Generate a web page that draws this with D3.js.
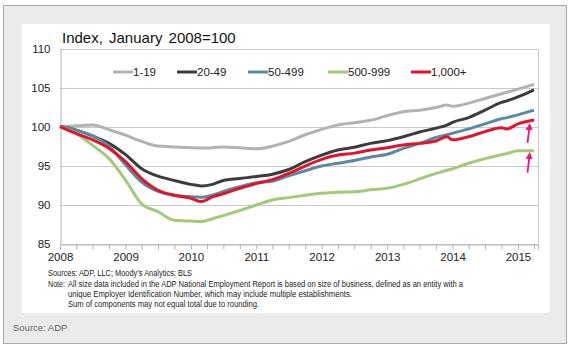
<!DOCTYPE html>
<html>
<head>
<meta charset="utf-8">
<script src="https://cdn.jsdelivr.net/npm/d3@7"></script>
<style>
body { margin: 0; background: #fff; }
svg { display: block; font-family: Arial, "Liberation Sans", sans-serif; }
</style>
</head>
<body>
<svg width="578" height="351"></svg>
<script>
// months of the readings (year-month)
var months = ["2008-01","2008-04","2008-07","2008-10","2009-01","2009-04","2009-07","2009-10",
    "2010-01","2010-03","2010-05","2010-07","2010-10","2011-01","2011-04","2011-07","2011-10",
    "2012-01","2012-04","2012-07","2012-10","2013-01","2013-04","2013-07","2013-10","2013-12",
    "2014-01","2014-04","2014-07","2014-10","2014-11","2015-01","2015-04"];

var sizes = ["1-19", "20-49", "50-499", "500-999", "1,000+"];
var colors = ["#b2b2b2", "#3c3c3c", "#5b8aa2", "#a4c97b", "#e2132d"];

var size1to19 = [100, 100.1, 100.2, 99.6, 98.9, 98.1, 97.5, 97.4, 97.3, 97.25, 97.3, 97.4, 97.3,
    97.15, 97.5, 98.1, 98.95, 99.65, 100.2, 100.5, 100.8, 101.4, 101.9, 102.1, 102.45, 102.75,
    102.6, 103.0, 103.6, 104.2, 104.4, 104.8, 105.4];
var size20to49 = [100, 99.55, 98.8, 97.85, 96.4, 94.6, 93.65, 93.1, 92.6, 92.4, 92.6, 93.1, 93.35,
    93.6, 93.9, 94.5, 95.5, 96.35, 97.0, 97.35, 97.85, 98.2, 98.7, 99.3, 99.8, 100.2,
    100.55, 101.15, 102.1, 103.1, 103.3, 103.8, 104.7];
var size50to499 = [100, 99.55, 98.8, 97.5, 95.1, 92.9, 91.7, 91.2, 91.0, 90.95, 91.2, 91.7, 92.3,
    92.8, 93.0, 93.7, 94.35, 94.95, 95.3, 95.65, 96.1, 96.45, 97.2, 97.85, 98.6, 98.95,
    99.15, 99.7, 100.35, 101.0, 101.15, 101.5, 102.1];
var size500to999 = [100, 99.1, 97.6, 95.9, 93.15, 90.1, 89.1, 88.0, 87.9, 87.85, 88.2, 88.6, 89.25,
    89.95, 90.6, 90.9, 91.2, 91.45, 91.6, 91.65, 91.9, 92.1, 92.6, 93.3, 94.0, 94.4,
    94.6, 95.3, 95.9, 96.4, 96.55, 96.9, 96.9];
var size1000plus = [100, 99.1, 98.3, 97.2, 95.5, 93.35, 91.85, 91.2, 90.8, 90.4, 91.0, 91.4, 92.1,
    92.7, 93.2, 94.0, 94.95, 95.8, 96.35, 96.6, 97.0, 97.3, 97.65, 97.85, 98.15, 98.7,
    98.3, 98.7, 99.35, 99.85, 99.7, 100.35, 100.85];

var yTicks = [85, 90, 95, 100, 105, 110];
var yearLabels = [2008, 2009, 2010, 2011, 2012, 2013, 2014, 2015];

var allSeries = [size1to19, size20to49, size50to499, size500to999, size1000plus];
var parseMonth = d3.timeParse("%Y-%m");
var dates = months.map(parseMonth);

var svg = d3.select("svg");

// outer frame and white panel
svg.append("rect")
    .attr("x", 3.5).attr("y", 5.5).attr("width", 563).attr("height", 338)
    .attr("fill", "#ebebeb").attr("stroke", "#a8a8a8");
svg.append("rect")
    .attr("x", 22).attr("y", 24).attr("width", 528).attr("height", 289)
    .attr("fill", "#fff");

var x = d3.scaleTime()
    .domain([new Date(2008, 0, 1), new Date(2015, 3, 23)])
    .range([60, 538]);
var y = d3.scaleLinear().domain([85, 110]).range([243.7, 48.5]);

// gridlines
svg.append("g")
    .selectAll("line")
    .data(yTicks)
    .enter()
    .append("line")
    .attr("x1", 60).attr("x2", 538)
    .attr("y1", function(d) { return Math.round(y(d)) + 0.5; })
    .attr("y2", function(d) { return Math.round(y(d)) + 0.5; })
    .attr("stroke", "#c9c9c9").attr("stroke-width", 1);

// right border of plot
svg.append("line")
    .attr("x1", 538.5).attr("x2", 538.5)
    .attr("y1", Math.round(y(110)) + 0.5).attr("y2", Math.round(y(85)) + 0.5)
    .attr("stroke", "#c9c9c9");

// y axis
var yAxis = svg.append("g")
    .attr("transform", "translate(60.5,0)")
    .call(d3.axisLeft(y).tickValues(yTicks).tickSize(0).tickPadding(10));
yAxis.select(".domain").attr("stroke", "#b5b5b5");
yAxis.selectAll("text")
    .attr("font-family", "Arial, 'Liberation Sans', sans-serif")
    .attr("font-size", "11.5px").attr("fill", "#222");

// x axis: quarterly ticks, year labels
var quarterTicks = d3.timeMonth.every(3).range(new Date(2008, 0, 1), new Date(2015, 3, 2));
var xAxis = svg.append("g")
    .attr("transform", "translate(0," + (Math.round(y(85)) + 0.5) + ")")
    .call(d3.axisBottom(x)
        .tickValues(quarterTicks)
        .tickSize(5)
        .tickPadding(3)
        .tickFormat(function(d) {
            return d.getMonth() === 0 && yearLabels.indexOf(d.getFullYear()) >= 0 ? d.getFullYear() : "";
        }));
xAxis.select(".domain").attr("stroke", "#b5b5b5");
xAxis.selectAll("line").attr("stroke", "#b5b5b5");
xAxis.selectAll("text")
    .attr("font-family", "Arial, 'Liberation Sans', sans-serif")
    .attr("font-size", "11.5px").attr("fill", "#222");

// lines
var line = d3.line()
    .x(function(d, i) { return x(dates[i]); })
    .y(function(d) { return y(d); })
    .curve(d3.curveMonotoneX);

svg.append("g")
    .selectAll("path")
    .data(allSeries)
    .enter()
    .append("path")
    .attr("d", line)
    .attr("fill", "none")
    .attr("stroke", function(d, i) { return colors[i]; })
    .attr("stroke-width", 3)
    .attr("stroke-linejoin", "round");

// title
svg.append("text")
    .attr("x", 62).attr("y", 43)
    .attr("font-size", "15px").attr("fill", "#111")
    .style("word-spacing", "2px")
    .text("Index, January 2008=100");

// legend
var legendX = [113, 177, 248, 328, 411];
var legendY = 72;
var legend = svg.append("g")
    .selectAll("g")
    .data(sizes)
    .enter()
    .append("g")
    .attr("transform", function(d, i) { return "translate(" + legendX[i] + "," + legendY + ")"; });
legend.append("line")
    .attr("x1", 0).attr("x2", 20)
    .attr("stroke", function(d, i) { return colors[i]; })
    .attr("stroke-width", 3);
legend.append("text")
    .attr("x", 20).attr("y", 4)
    .attr("font-size", "11.5px").attr("fill", "#222")
    .text(function(d) { return d; });

// pink arrows pointing at the last readings
var arrowDate = new Date(2015, 2, 1);
var arrows = [[97.9, 100.0], [94.1, 96.3]];
svg.append("defs").append("marker")
    .attr("id", "head")
    .attr("viewBox", "0 0 10 10")
    .attr("refX", 5).attr("refY", 5)
    .attr("markerWidth", 4).attr("markerHeight", 4)
    .attr("orient", "auto")
    .append("path")
    .attr("d", "M0,0L10,5L0,10z")
    .attr("fill", "#f0127f");
svg.append("g")
    .selectAll("line")
    .data(arrows)
    .enter()
    .append("line")
    .attr("x1", x(arrowDate) - 1).attr("x2", x(arrowDate) + 1)
    .attr("y1", function(d) { return y(d[0]); })
    .attr("y2", function(d) { return y(d[1]); })
    .attr("stroke", "#f0127f").attr("stroke-width", 1.8)
    .attr("marker-end", "url(#head)");

// notes
var notes = svg.append("g").attr("font-size", "8.5px").attr("fill", "#222");
notes.append("text").attr("x", 48).attr("y", 276)
    .attr("textLength", 144).attr("lengthAdjust", "spacingAndGlyphs")
    .text("Sources: ADP, LLC; Moody\u2019s Analytics; BLS");
notes.append("text").attr("x", 48).attr("y", 287)
    .attr("textLength", 17).attr("lengthAdjust", "spacingAndGlyphs")
    .text("Note:");
notes.append("text").attr("x", 68).attr("y", 287)
    .attr("textLength", 395).attr("lengthAdjust", "spacingAndGlyphs")
    .text("All size data included in the ADP National Employment Report is based on size of business, defined as an entity with a");
notes.append("text").attr("x", 68).attr("y", 297)
    .attr("textLength", 284).attr("lengthAdjust", "spacingAndGlyphs")
    .text("unique Employer Identification Number, which may include multiple establishments.");
notes.append("text").attr("x", 68).attr("y", 307)
    .attr("textLength", 191).attr("lengthAdjust", "spacingAndGlyphs")
    .text("Sum of components may not equal total due to rounding.");

svg.append("text")
    .attr("x", 13).attr("y", 331)
    .attr("font-size", "9.5px").attr("fill", "#666")
    .text("Source: ADP");
</script>
</body>
</html>
